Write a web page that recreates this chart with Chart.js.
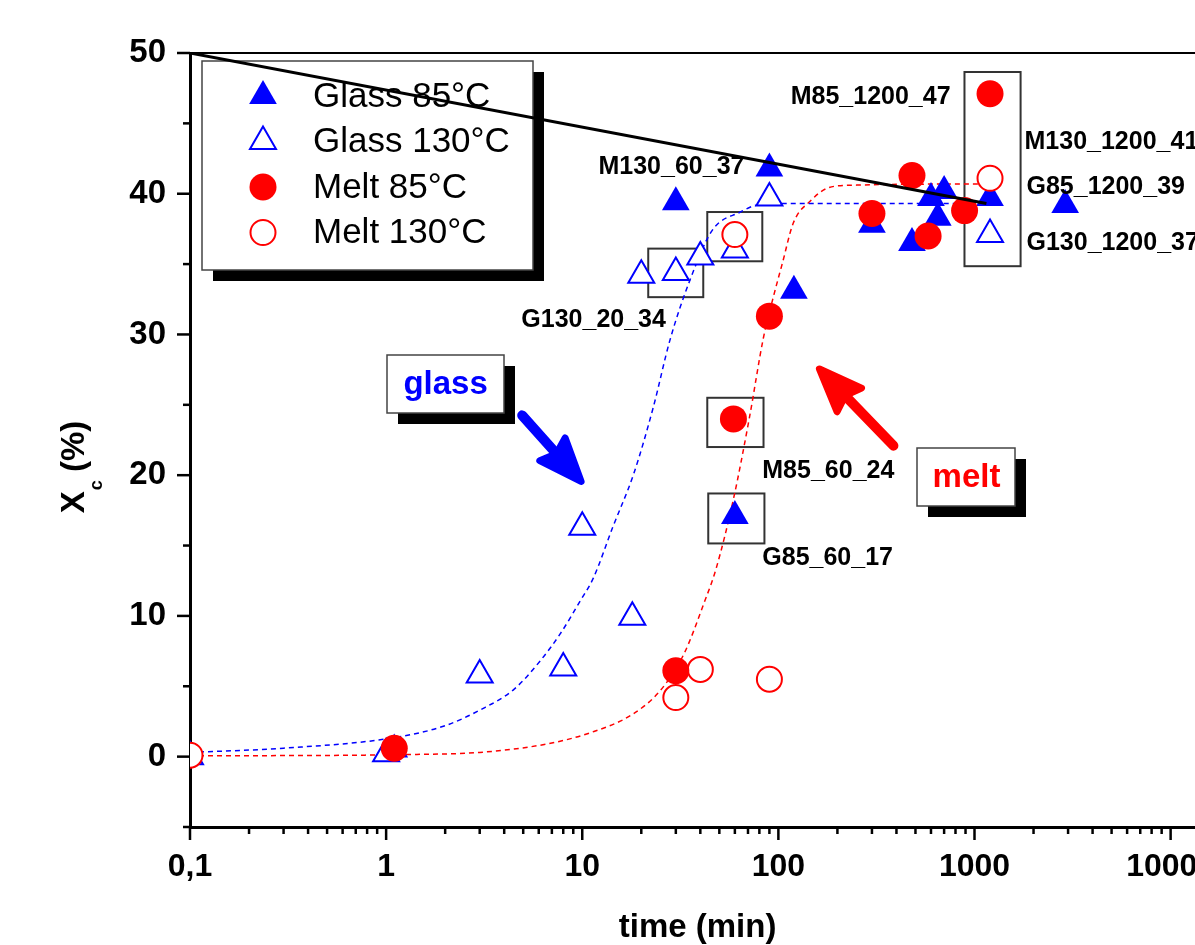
<!DOCTYPE html>
<html>
<head>
<meta charset="utf-8">
<script src="https://cdn.jsdelivr.net/npm/chart.js@4.4.0/dist/chart.umd.min.js"></script>
<style>
html, body { margin: 0; padding: 0; background: #fff; overflow: hidden; width: 1195px; height: 945px; }
#wrap { position: absolute; left: 0; top: 0; width: 1237px; height: 945px; }
</style>
</head>
<body>
<div id="wrap"><canvas id="chart"></canvas></div>
<script>
// measured samples, time in min, Xc in %
const glass85Time = [1.1, 30, 60, 90, 120, 300, 480, 600, 650, 700, 1200, 2900];
const glass85Xc = [0.5, 39.4, 17.1, 41.8, 33.1, 37.8, 36.5, 39.7, 38.3, 40.2, 39.7, 39.2];

const glass130Time = [0.1, 1, 3, 8, 10, 18, 20, 30, 40, 60, 90, 1200];
const glass130Xc = [0, 0.2, 5.8, 6.3, 16.3, 9.9, 34.2, 34.4, 35.5, 36.0, 39.7, 37.1];

const melt85Time = [1.1, 30, 59, 90, 300, 480, 580, 890, 1200];
const melt85Xc = [0.6, 6.1, 24.0, 31.3, 38.6, 41.3, 37.0, 38.8, 47.1];

const melt130Time = [0.1, 30, 40, 60, 90, 1200];
const melt130Xc = [0.1, 4.2, 6.2, 37.1, 5.5, 41.1];

// fitted curves
const glassFitTime = [0.1, 0.3, 1.1, 2, 3, 4.5, 6.1, 7.7, 9.8, 11.4, 14.3, 18.3, 23, 28, 35.5, 46, 64, 78, 100, 1200];
const glassFitXc = [0.3, 0.6, 1.35, 2.2, 3.3, 4.8, 6.8, 8.7, 11.1, 12.7, 16.3, 20.1, 24.8, 29.6, 33.9, 37.4, 38.7, 39.2, 39.3, 39.3];

const meltFitTime = [0.1, 1.3, 3, 6.6, 11, 18, 25, 33, 42, 48, 59, 71, 84, 94, 105, 119, 146, 178, 233, 1200];
const meltFitXc = [0.05, 0.15, 0.3, 0.9, 1.7, 3.0, 4.7, 7.3, 11, 13.3, 18.3, 24, 29.8, 32.6, 35.1, 37.9, 39.5, 40.4, 40.6, 40.7];

const trendTime = [0.1, 1150];
const trendXc = [50, 39.3];

// axis ticks
const xDecades = [0.1, 1, 10, 100, 1000, 10000];
const xDecadeText = ['0,1', '1', '10', '100', '1000', '10000'];

// sample annotations
const sampleNames = ['M85_1200_47', 'M130_1200_41', 'G85_1200_39', 'G130_1200_37', 'M130_60_37', 'G130_20_34', 'M85_60_24', 'G85_60_17'];
const sampleNameTime = [755, 1799, 1841, 1841, 12.1, 4.89, 82.8, 82.8];
const sampleNameXc = [46.9, 43.7, 40.5, 36.5, 41.9, 31.0, 20.3, 14.1];
const sampleNameAlign = ['right', 'left', 'left', 'left', 'left', 'left', 'left', 'left'];

// framed groups: [time from, time to, Xc from, Xc to]
const frames = [
    [43.4, 82.8, 35.2, 38.7],
    [21.7, 41.4, 32.65, 36.1],
    [43.4, 84.0, 22.0, 25.5],
    [43.9, 84.9, 15.15, 18.7],
    [889, 1718, 34.85, 48.65]
];

const calloutText = ['glass', 'melt'];
const calloutTime = [2.01, 910];
const calloutXc = [26.5, 19.9];
const calloutColor = ['#0000ff', '#ff0000'];

const arrowFromTime = [4.94, 386];
const arrowFromXc = [24.25, 22.1];
const arrowToTime = [10.1, 158];
const arrowToXc = [19.4, 27.7];

const FONT = "'Liberation Sans', Arial, sans-serif";

function pts(xs, ys) {
    return xs.map((v, i) => ({x: v, y: ys[i]}));
}

function drawMarker(ctx, style, cx, cy, r, fill, stroke, lw) {
    ctx.beginPath();
    if (style === 'triangle') {
        ctx.moveTo(cx, cy - r);
        ctx.lineTo(cx + r * 0.866, cy + r * 0.5);
        ctx.lineTo(cx - r * 0.866, cy + r * 0.5);
        ctx.closePath();
    } else {
        ctx.arc(cx, cy, r, 0, Math.PI * 2);
    }
    ctx.fillStyle = fill;
    ctx.fill();
    if (lw > 0) {
        ctx.lineWidth = lw;
        ctx.strokeStyle = stroke;
        ctx.stroke();
    }
}

function drawArrow(ctx, x0, y0, x1, y1, color) {
    const dx = x1 - x0, dy = y1 - y0, len = Math.hypot(dx, dy);
    const ux = dx / len, uy = dy / len, nx = -uy, ny = ux;
    const head = 46, half = 17;
    const bx = x1 - ux * head, by = y1 - uy * head;
    ctx.save();
    ctx.strokeStyle = color;
    ctx.fillStyle = color;
    ctx.lineCap = 'round';
    ctx.lineJoin = 'round';
    ctx.lineWidth = 10;
    ctx.beginPath();
    ctx.moveTo(x0, y0);
    ctx.lineTo(bx + ux * 8, by + uy * 8);
    ctx.stroke();
    ctx.lineWidth = 7;
    ctx.beginPath();
    ctx.moveTo(x1 - ux * 3, y1 - uy * 3);
    ctx.lineTo(bx + nx * half, by + ny * half);
    ctx.lineTo(bx + ux * 6, by + uy * 6);
    ctx.lineTo(bx - nx * half, by - ny * half);
    ctx.closePath();
    ctx.fill();
    ctx.stroke();
    ctx.restore();
}

function drawCallout(ctx, cx, cy, w, h, text, color) {
    const l = Math.round(cx - w / 2), t = Math.round(cy - h / 2);
    ctx.fillStyle = '#000';
    ctx.fillRect(l + 11, t + 11, w, h);
    ctx.fillStyle = '#fff';
    ctx.fillRect(l, t, w, h);
    ctx.strokeStyle = '#444';
    ctx.lineWidth = 1.5;
    ctx.strokeRect(l, t, w, h);
    ctx.fillStyle = color;
    ctx.font = 'bold 33px ' + FONT;
    ctx.textAlign = 'center';
    ctx.textBaseline = 'middle';
    ctx.fillText(text, cx, cy + 1);
}

const overlay = {
    id: 'overlay',
    beforeDatasetsDraw(chart) {
        const {ctx, chartArea} = chart;
        const xs = chart.scales.x, ys = chart.scales.y;
        ctx.save();

        // legend box with drop shadow
        const L = chartArea.left + 12, T = chartArea.top + 8, W = 331, H = 209;
        ctx.fillStyle = '#000';
        ctx.fillRect(L + 11, T + 11, W, H);
        ctx.fillStyle = '#fff';
        ctx.fillRect(L, T, W, H);
        ctx.strokeStyle = '#444';
        ctx.lineWidth = 1.5;
        ctx.strokeRect(L, T, W, H);
        const legendSets = chart.data.datasets.filter(d => d.inLegend);
        legendSets.forEach((d, i) => {
            const ry = T + 35 + i * 45.5;
            drawMarker(ctx, d.pointStyle, L + 61, ry, d.pointRadius, d.backgroundColor, d.borderColor, d.borderWidth);
            ctx.fillStyle = '#000';
            ctx.font = '35px ' + FONT;
            ctx.textAlign = 'left';
            ctx.textBaseline = 'middle';
            ctx.fillText(d.label, L + 111, ry + 1);
        });

        // frames around selected samples
        ctx.strokeStyle = '#333';
        ctx.lineWidth = 2;
        frames.forEach(f => {
            const x1 = xs.getPixelForValue(f[0]), x2 = xs.getPixelForValue(f[1]);
            const y1 = ys.getPixelForValue(f[3]), y2 = ys.getPixelForValue(f[2]);
            ctx.strokeRect(x1, y1, x2 - x1, y2 - y1);
        });
        ctx.restore();
    },
    afterDatasetsDraw(chart) {
        const {ctx, chartArea} = chart;
        const xs = chart.scales.x, ys = chart.scales.y;
        ctx.save();

        // sample names
        ctx.fillStyle = '#000';
        ctx.font = 'bold 25px ' + FONT;
        ctx.textBaseline = 'middle';
        sampleNames.forEach((s, i) => {
            ctx.textAlign = sampleNameAlign[i];
            ctx.fillText(s, xs.getPixelForValue(sampleNameTime[i]), ys.getPixelForValue(sampleNameXc[i]));
        });

        arrowFromTime.forEach((t, i) => {
            drawArrow(ctx, xs.getPixelForValue(t), ys.getPixelForValue(arrowFromXc[i]),
                xs.getPixelForValue(arrowToTime[i]), ys.getPixelForValue(arrowToXc[i]), calloutColor[i]);
        });

        drawCallout(ctx, xs.getPixelForValue(calloutTime[0]), ys.getPixelForValue(calloutXc[0]), 117, 58, calloutText[0], calloutColor[0]);
        drawCallout(ctx, xs.getPixelForValue(calloutTime[1]), ys.getPixelForValue(calloutXc[1]), 98, 58, calloutText[1], calloutColor[1]);

        // top frame line
        ctx.strokeStyle = '#000';
        ctx.lineWidth = 2;
        ctx.beginPath();
        ctx.moveTo(chartArea.left, chartArea.top);
        ctx.lineTo(chartArea.right + 2, chartArea.top);
        ctx.stroke();

        // tick marks, long for decades / tens, short for the rest
        ctx.lineWidth = 2.5;
        xs.ticks.forEach(t => {
            const major = xDecades.some(d => Math.abs(d - t.value) < d * 1e-6);
            const p = xs.getPixelForValue(t.value);
            ctx.beginPath();
            ctx.moveTo(p, chartArea.bottom);
            ctx.lineTo(p, chartArea.bottom + (major ? 13 : 7));
            ctx.stroke();
        });
        ys.ticks.forEach(t => {
            const major = t.value % 10 === 0;
            const p = ys.getPixelForValue(t.value);
            ctx.beginPath();
            ctx.moveTo(chartArea.left, p);
            ctx.lineTo(chartArea.left - (major ? 13 : 7), p);
            ctx.stroke();
        });

        // axis titles
        ctx.fillStyle = '#000';
        ctx.font = 'bold 33px ' + FONT;
        ctx.textAlign = 'center';
        ctx.textBaseline = 'middle';
        ctx.fillText('time (min)', (chartArea.left + chartArea.right) / 2, 928);

        ctx.translate(75, 467);
        ctx.rotate(-Math.PI / 2);
        ctx.textAlign = 'left';
        const big = 'bold 33px ' + FONT, small = 'bold 18px ' + FONT;
        ctx.font = big;
        const wX = ctx.measureText('X').width, wP = ctx.measureText(' (%)').width;
        ctx.font = small;
        const wC = ctx.measureText('c').width;
        const x0 = -(wX + wC + wP) / 2;
        ctx.font = big;
        ctx.fillText('X', x0, 0);
        ctx.font = small;
        ctx.fillText('c', x0 + wX + 1, 22);
        ctx.font = big;
        ctx.fillText(' (%)', x0 + wX + wC, 0);
        ctx.restore();
    }
};

new Chart(document.getElementById('chart'), {
    type: 'scatter',
    data: {
        datasets: [
            {label: 'trend', data: pts(trendTime, trendXc), showLine: true, borderColor: '#000', borderWidth: 3,
             pointRadius: 0, order: 0, clip: 0},
            {label: 'Glass 85°C', inLegend: true, data: pts(glass85Time, glass85Xc), pointStyle: 'triangle', pointRadius: 16,
             backgroundColor: '#0000ff', borderColor: '#0000ff', borderWidth: 0, order: 4, clip: 0},
            {label: 'Glass 130°C', inLegend: true, data: pts(glass130Time, glass130Xc), pointStyle: 'triangle', pointRadius: 15,
             backgroundColor: '#ffffff', borderColor: '#0000ff', borderWidth: 2, order: 3, clip: 0},
            {label: 'Melt 85°C', inLegend: true, data: pts(melt85Time, melt85Xc), pointStyle: 'circle', pointRadius: 13.5,
             backgroundColor: '#ff0000', borderColor: '#ff0000', borderWidth: 0, order: 1, clip: 0},
            {label: 'Melt 130°C', inLegend: true, data: pts(melt130Time, melt130Xc), pointStyle: 'circle', pointRadius: 12.5,
             backgroundColor: '#ffffff', borderColor: '#ff0000', borderWidth: 2, order: 2, clip: 0},
            {label: 'glass fit', data: pts(glassFitTime, glassFitXc), showLine: true, borderColor: '#0000ff', borderWidth: 1.5,
             borderDash: [5, 4], pointRadius: 0, cubicInterpolationMode: 'monotone', order: 5, clip: 0},
            {label: 'melt fit', data: pts(meltFitTime, meltFitXc), showLine: true, borderColor: '#ff0000', borderWidth: 1.5,
             borderDash: [5, 4], pointRadius: 0, cubicInterpolationMode: 'monotone', order: 6, clip: 0}
        ]
    },
    options: {
        responsive: true,
        maintainAspectRatio: false,
        animation: false,
        devicePixelRatio: 1,
        events: [],
        layout: {padding: {left: 0, top: 53, right: 26, bottom: 0}},
        plugins: {legend: {display: false}, tooltip: {enabled: false}, title: {display: false}},
        scales: {
            x: {
                type: 'logarithmic',
                min: 0.1,
                max: 15000,
                afterBuildTicks: (scale) => {
                    const ticks = [];
                    xDecades.forEach(d => {
                        for (let k = 1; k < 10; k++) {
                            if (d * k <= scale.max) ticks.push({value: d * k, major: k === 1});
                        }
                    });
                    scale.ticks = ticks;
                },
                afterFit: (scale) => { scale.height = 118; },
                grid: {display: false, drawTicks: false, drawOnChartArea: false},
                border: {display: true, width: 3, color: '#000'},
                ticks: {
                    autoSkip: false,
                    maxRotation: 0,
                    padding: 21,
                    color: '#000',
                    font: {family: FONT, size: 32, weight: 'bold'},
                    callback: (v) => {
                        const i = xDecades.findIndex(d => Math.abs(d - v) < d * 1e-6);
                        return i >= 0 ? xDecadeText[i] : '';
                    }
                }
            },
            y: {
                min: -5,
                max: 50,
                afterFit: (scale) => { scale.width = 190; },
                grid: {display: false, drawTicks: false, drawOnChartArea: false},
                border: {display: true, width: 3, color: '#000'},
                ticks: {
                    stepSize: 5,
                    autoSkip: false,
                    padding: 24,
                    color: '#000',
                    font: {family: FONT, size: 33, weight: 'bold'},
                    callback: (v) => (v % 10 === 0 ? String(v) : '')
                }
            }
        }
    },
    plugins: [overlay]
});
</script>
</body>
</html>
